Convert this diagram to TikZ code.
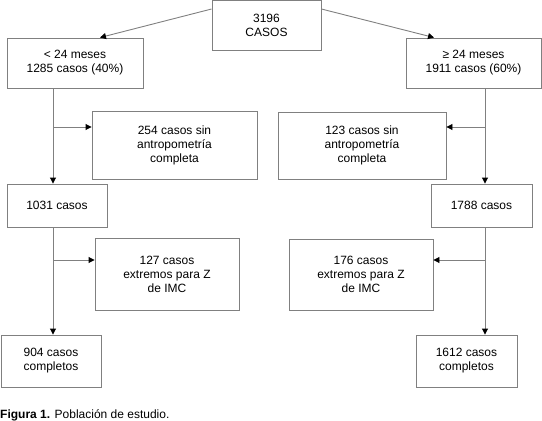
\documentclass[tikz,border=0pt]{standalone}
\usepackage{fontspec}
\setmainfont{Liberation Sans}
\usetikzlibrary{arrows.meta,calc}
\definecolor{linea}{RGB}{128,128,128}

\begin{document}
\begin{tikzpicture}[
      x=1pt, y=-1pt,
      >={Triangle[length=6pt,width=6pt,color=black]},
      st/.style={draw=linea,line width=0.9pt,align=center,inner sep=0pt,font=\fontsize{12}{14}\selectfont},
      conn/.style={->,draw=linea,line width=0.9pt},
      pielbl/.style={anchor=west,inner sep=0pt,font=\fontsize{12}{14}\selectfont},
    ]
    \useasboundingbox (0,0) rectangle (542,421);
    % totales y grupos de edad
    \node[st,minimum width=109pt,minimum height=50pt] (tot) at (266.5,25.5) {3196\\CASOS};
    \node[st,minimum width=136pt,minimum height=50pt] (menor) at (75,63) {< 24 meses\\1285 casos (40\%)};
    \node[st,minimum width=135pt,minimum height=50pt] (mayor) at (473.5,63) {≥ 24 meses\\1911 casos (60\%)};
    % exclusiones
    \node[st,minimum width=165pt,minimum height=68pt] (sinA) at (174.5,145) {254 casos sin\\antropometría\\completa};
    \node[st,minimum width=168pt,minimum height=67pt] (sinB) at (362,145.5) {123 casos sin\\antropometría\\completa};
    \node[st,minimum width=100pt,minimum height=43pt] (casA) at (57,205.5) {1031 casos};
    \node[st,minimum width=101pt,minimum height=43pt] (casB) at (481.5,205.5) {1788 casos};
    \node[st,minimum width=144pt,minimum height=72pt] (extA) at (167,274) {127 casos\\extremos para Z\\de IMC};
    \node[st,minimum width=144pt,minimum height=71pt] (extB) at (361,274.5) {176 casos\\extremos para Z\\de IMC};
    \node[st,minimum width=100pt,minimum height=52pt] (finA) at (51,361) {904 casos\\completos};
    \node[st,minimum width=101pt,minimum height=52pt] (finB) at (466.5,361) {1612 casos\\completos};
    \node[pielbl] (pie) at (0,415) {\textbf{Figura 1.} Población de estudio.};
    % columnas de flujo
    \coordinate (colA) at (53,0);
    \coordinate (colB) at (485,0);
    \coordinate (brA1) at (53,127);
    \coordinate (brB1) at (485,127);
    \coordinate (brA2) at (53,260);
    \coordinate (brB2) at (485,260);
    \draw[conn] ($(tot.west)+(0,-16.5)$) -- ($(menor.north)+(25,0)$);
    \draw[conn] ($(tot.east)+(0,-16.5)$) -- ($(mayor.north)+(-39.5,0)$);
    \draw[conn] (menor.south -| colA) -- (casA.north -| colA);
    \draw[conn] (mayor.south -| colB) -- (casB.north -| colB);
    \draw[conn] (brA1) -- (brA1 -| sinA.west);
    \draw[conn] (brB1) -- (brB1 -| sinB.east);
    \draw[conn] (casA.south -| colA) -- (finA.north -| colA);
    \draw[conn] (casB.south -| colB) -- (finB.north -| colB);
    \draw[conn] (brA2) -- (brA2 -| extA.west);
    \draw[conn] (brB2) -- (brB2 -| extB.east);
  \end{tikzpicture}
\end{document}
